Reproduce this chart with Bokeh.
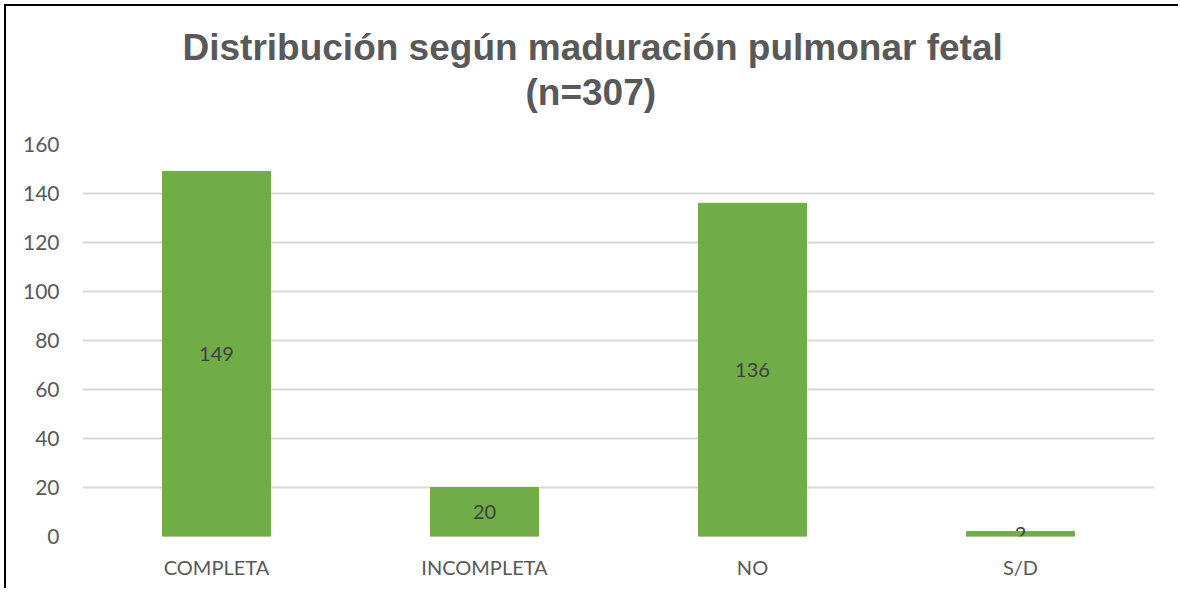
from bokeh.plotting import figure
from bokeh.models import ColumnDataSource, FixedTicker, Title
from bokeh.core.properties import value
from bokeh.embed import file_html
from bokeh.resources import INLINE

categories = ["COMPLETA", "INCOMPLETA", "NO", "S/D"]
counts = [149, 20, 136, 2]
y_ticks = [0, 20, 40, 60, 80, 100, 120, 140, 160]
title_line1 = "Distribución según maduración pulmonar fetal"
title_line2 = "(n=307)"

src = ColumnDataSource(dict(cat=categories, val=counts,
                            mid=[v / 2 for v in counts],
                            lab=[str(v) for v in counts]))

title_style = dict(text_font="Liberation Sans", text_font_style="bold",
                   text_font_size="37px", text_color="#595959")
t1 = Title(text=title_line1, align="left", offset=100, standoff=-60, **title_style)

p = figure(x_range=categories, y_range=(0, 160), width=1174, height=584,
           output_backend="svg", toolbar_location=None, title=t1,
           min_border_left=76, min_border_right=26, min_border_top=138,
           min_border_bottom=54)
p.add_layout(Title(text=title_line2, align="left", offset=443, standoff=64,
                   **title_style), "above")
p.x_range.range_padding = 0
p.outline_line_color = None
p.background_fill_color = "white"
p.border_fill_color = "white"

p.vbar(x="cat", top="val", width=0.403, source=src, color="#70AD47")
p.text(x="cat", y="mid", text="lab", source=src, text_align="center",
       text_baseline="middle", text_color="#404040", text_font_size="20px",
       text_font=value("Lato"))

p.xgrid.grid_line_color = None
p.ygrid.grid_line_color = "#D9D9D9"
p.ygrid.grid_line_width = 2
p.yaxis.ticker = FixedTicker(ticks=y_ticks)
for ax in (p.xaxis[0], p.yaxis[0]):
    ax.axis_line_color = None
    ax.major_tick_line_color = None
    ax.minor_tick_line_color = None
    ax.major_tick_out = 0
    ax.major_tick_in = 0
    ax.major_label_text_color = "#595959"
    ax.major_label_text_font = "Lato"
p.xaxis.major_label_text_font_size = "20px"
p.yaxis.major_label_text_font_size = "21px"
p.yaxis.major_label_standoff = 23
p.xaxis.major_label_standoff = 18

p.styles = {"margin-left": "4px", "margin-top": "4px",
            "border-left": "2px solid black", "border-top": "2px solid black",
            "border-right": "0px none", "border-bottom": "0px none"}

open("out.html", "w").write(file_html(p, INLINE))
